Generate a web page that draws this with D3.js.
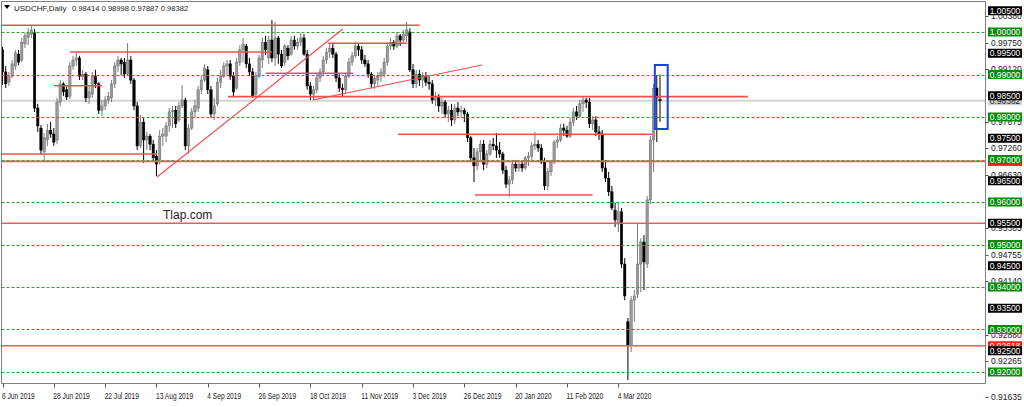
<!DOCTYPE html>
<html><head><meta charset="utf-8">
<script src="https://cdnjs.cloudflare.com/ajax/libs/d3/7.8.5/d3.min.js"></script>
<style>
html,body{margin:0;padding:0;background:#fff;}
svg{display:block;font-family:"Liberation Sans",Arial,sans-serif;}
</style></head><body>
<svg id="c" width="1024" height="407"></svg>
<script>
// ---------------- DATA ----------------
const symbolTitle = "USDCHF,Daily";
const lastQuote = [0.98414, 0.98998, 0.97887, 0.98382]; // O H L C of the last bar
const opens = [0.9958,0.9906,0.9882,0.9896,0.9920,0.9948,0.9934,0.9972,0.9988,0.9995,
0.9998,0.9821,0.9774,0.9718,0.9746,0.9769,0.9760,0.9746,0.9835,0.9878,
0.9864,0.9849,0.9920,0.9934,0.9939,0.9896,0.9901,0.9845,0.9854,0.9896,
0.9878,0.9816,0.9826,0.9840,0.9845,0.9878,0.9920,0.9934,0.9929,0.9901,
0.9934,0.9887,0.9826,0.9732,0.9788,0.9746,0.9755,0.9736,0.9708,0.9699,
0.9755,0.9755,0.9779,0.9812,0.9816,0.9793,0.9826,0.9840,0.9732,0.9774,
0.9812,0.9821,0.9864,0.9887,0.9911,0.9864,0.9807,0.9831,0.9882,0.9896,
0.9920,0.9925,0.9896,0.9868,0.9929,0.9958,0.9967,0.9925,0.9906,0.9854,
0.9896,0.9934,0.9976,0.9939,0.9981,0.9939,0.9986,0.9948,0.9929,0.9962,
0.9948,0.9981,0.9967,0.9976,0.9986,0.9948,0.9873,0.9854,0.9864,0.9892,
0.9906,0.9934,0.9953,0.9962,0.9948,0.9892,0.9868,0.9864,0.9896,0.9929,
0.9944,0.9967,0.9958,0.9934,0.9925,0.9901,0.9878,0.9887,0.9896,0.9901,
0.9929,0.9967,0.9976,0.9967,0.9991,0.9981,0.9991,1.0000,0.9911,0.9878,
0.9901,0.9887,0.9896,0.9882,0.9878,0.9840,0.9849,0.9826,0.9835,0.9807,
0.9816,0.9793,0.9821,0.9812,0.9816,0.9807,0.9751,0.9704,0.9685,0.9718,
0.9736,0.9689,0.9713,0.9736,0.9732,0.9722,0.9713,0.9675,0.9642,0.9652,
0.9689,0.9680,0.9689,0.9680,0.9704,0.9708,0.9732,0.9736,0.9727,0.9694,
0.9638,0.9671,0.9694,0.9741,0.9746,0.9774,0.9769,0.9755,0.9788,0.9812,
0.9802,0.9831,0.9840,0.9835,0.9784,0.9793,0.9765,0.9760,0.9680,0.9656,
0.9624,0.9581,0.9548,0.9577,0.9454,0.9318,0.9262,0.9369,0.9383,0.9454,
0.9506,0.9454,0.9605,0.9746,0.9868,0.98414];
const highs = [0.9965,0.9920,0.9906,0.9934,0.9958,0.9958,0.9986,0.9998,1.0009,1.0014,
1.0007,0.9831,0.9781,0.9762,0.9784,0.9788,0.9774,0.9845,0.9887,0.9882,
0.9873,0.9929,0.9944,0.9951,0.9944,0.9911,0.9906,0.9875,0.9906,0.9911,
0.9882,0.9840,0.9849,0.9859,0.9887,0.9929,0.9944,0.9939,0.9939,0.9974,
0.9944,0.9892,0.9835,0.9805,0.9798,0.9765,0.9760,0.9746,0.9722,0.9769,
0.9774,0.9788,0.9821,0.9826,0.9826,0.9835,0.9875,0.9845,0.9784,0.9821,
0.9840,0.9873,0.9896,0.9925,0.9920,0.9873,0.9845,0.9892,0.9911,0.9929,
0.9934,0.9934,0.9906,0.9939,0.9969,0.9986,0.9972,0.9939,0.9915,0.9906,
0.9946,0.9986,0.9991,0.9991,1.0028,1.0024,0.9991,0.9958,0.9972,0.9969,
0.9991,0.9991,0.9986,0.9998,0.9995,0.9958,0.9882,0.9873,0.9901,0.9915,
0.9944,0.9962,0.9974,0.9972,0.9953,0.9901,0.9878,0.9901,0.9939,0.9953,
0.9976,0.9974,0.9967,0.9946,0.9934,0.9906,0.9899,0.9906,0.9915,0.9939,
0.9976,0.9986,0.9981,1.0000,0.9995,1.0005,1.0024,1.0009,0.9925,0.9911,
0.9911,0.9906,0.9906,0.9896,0.9887,0.9859,0.9854,0.9845,0.9840,0.9826,
0.9831,0.9831,0.9835,0.9826,0.9821,0.9812,0.9755,0.9727,0.9727,0.9746,
0.9746,0.9722,0.9746,0.9751,0.9762,0.9741,0.9718,0.9685,0.9661,0.9699,
0.9699,0.9694,0.9699,0.9708,0.9718,0.9741,0.9765,0.9746,0.9736,0.9704,
0.9680,0.9699,0.9746,0.9755,0.9784,0.9784,0.9779,0.9798,0.9821,0.9826,
0.9840,0.9849,0.9845,0.9845,0.9802,0.9802,0.9779,0.9769,0.9699,0.9671,
0.9638,0.9598,0.9600,0.9586,0.9468,0.9327,0.9379,0.9393,0.9551,0.9515,
0.9522,0.9614,0.9755,0.9878,0.9899,0.98998];
const lows = [0.9875,0.9868,0.9873,0.9892,0.9911,0.9922,0.9929,0.9962,0.9969,0.9986,
0.9812,0.9765,0.9711,0.9694,0.9732,0.9751,0.9732,0.9736,0.9826,0.9849,
0.9840,0.9842,0.9911,0.9920,0.9887,0.9887,0.9835,0.9831,0.9845,0.9868,
0.9807,0.9802,0.9816,0.9831,0.9835,0.9868,0.9906,0.9899,0.9892,0.9896,
0.9878,0.9816,0.9722,0.9727,0.9692,0.9722,0.9722,0.9699,0.9661,0.9689,
0.9732,0.9741,0.9765,0.9774,0.9774,0.9788,0.9821,0.9722,0.9713,0.9769,
0.9798,0.9812,0.9854,0.9882,0.9854,0.9798,0.9793,0.9826,0.9868,0.9892,
0.9899,0.9887,0.9849,0.9864,0.9920,0.9929,0.9915,0.9896,0.9845,0.9847,
0.9892,0.9915,0.9946,0.9925,0.9929,0.9920,0.9925,0.9915,0.9920,0.9934,
0.9944,0.9958,0.9958,0.9967,0.9944,0.9864,0.9840,0.9840,0.9856,0.9882,
0.9896,0.9925,0.9939,0.9939,0.9882,0.9859,0.9849,0.9856,0.9892,0.9920,
0.9939,0.9944,0.9925,0.9918,0.9892,0.9868,0.9866,0.9873,0.9882,0.9892,
0.9920,0.9958,0.9958,0.9962,0.9967,0.9972,0.9976,0.9906,0.9868,0.9868,
0.9873,0.9868,0.9873,0.9864,0.9831,0.9826,0.9812,0.9807,0.9798,0.9788,
0.9779,0.9784,0.9802,0.9798,0.9788,0.9741,0.9694,0.9647,0.9675,0.9694,
0.9675,0.9680,0.9708,0.9722,0.9704,0.9704,0.9666,0.9633,0.9612,0.9642,
0.9671,0.9671,0.9671,0.9675,0.9685,0.9694,0.9722,0.9718,0.9689,0.9628,
0.9628,0.9661,0.9689,0.9727,0.9741,0.9755,0.9751,0.9751,0.9779,0.9793,
0.9798,0.9812,0.9821,0.9774,0.9769,0.9755,0.9746,0.9671,0.9647,0.9614,
0.9581,0.9541,0.9529,0.9445,0.9369,0.9181,0.9247,0.9318,0.9374,0.9388,
0.9393,0.9445,0.9595,0.9671,0.9741,0.97887];
const closes = [0.9906,0.9878,0.9896,0.9925,0.9951,0.9929,0.9976,0.9991,0.9998,1.0005,
0.9821,0.9779,0.9722,0.9751,0.9769,0.9760,0.9741,0.9835,0.9878,0.9859,
0.9847,0.9920,0.9934,0.9939,0.9896,0.9901,0.9845,0.9859,0.9896,0.9878,
0.9816,0.9826,0.9840,0.9849,0.9878,0.9920,0.9934,0.9925,0.9901,0.9934,
0.9887,0.9826,0.9732,0.9788,0.9746,0.9755,0.9736,0.9704,0.9689,0.9755,
0.9760,0.9779,0.9812,0.9816,0.9784,0.9826,0.9840,0.9732,0.9774,0.9812,
0.9826,0.9864,0.9887,0.9915,0.9864,0.9807,0.9826,0.9882,0.9896,0.9920,
0.9925,0.9896,0.9859,0.9929,0.9958,0.9972,0.9925,0.9906,0.9849,0.9896,
0.9939,0.9976,0.9958,0.9981,0.9939,0.9986,0.9948,0.9920,0.9967,0.9944,
0.9981,0.9967,0.9976,0.9986,0.9948,0.9873,0.9854,0.9864,0.9892,0.9906,
0.9934,0.9953,0.9962,0.9948,0.9892,0.9868,0.9864,0.9896,0.9929,0.9944,
0.9967,0.9958,0.9934,0.9925,0.9901,0.9878,0.9892,0.9896,0.9906,0.9929,
0.9967,0.9976,0.9967,0.9991,0.9981,0.9995,1.0005,0.9911,0.9878,0.9901,
0.9887,0.9896,0.9882,0.9878,0.9840,0.9849,0.9826,0.9835,0.9807,0.9816,
0.9793,0.9821,0.9812,0.9816,0.9807,0.9751,0.9704,0.9685,0.9718,0.9736,
0.9689,0.9713,0.9736,0.9732,0.9722,0.9713,0.9675,0.9642,0.9652,0.9689,
0.9680,0.9689,0.9680,0.9704,0.9708,0.9732,0.9736,0.9727,0.9694,0.9638,
0.9671,0.9694,0.9741,0.9746,0.9774,0.9769,0.9755,0.9788,0.9812,0.9802,
0.9831,0.9840,0.9835,0.9784,0.9793,0.9765,0.9760,0.9680,0.9656,0.9624,
0.9586,0.9558,0.9577,0.9454,0.9379,0.9262,0.9369,0.9379,0.9454,0.9506,
0.9459,0.9605,0.9746,0.9868,0.9845,0.98382];

const dateTickLabels = ["6 Jun 2019","28 Jun 2019","22 Jul 2019","13 Aug 2019","4 Sep 2019","26 Sep 2019","18 Oct 2019","11 Nov 2019","3 Dec 2019","26 Dec 2019","20 Jan 2020","11 Feb 2020","4 Mar 2020"];
const dateTickBars = [0,16,32,48,64,80,96,112,128,144,160,176,192];

// visible auto-scale price ticks (others are hidden under level tags)
const priceTickValues = [1.00380,0.99750,0.99120,0.97875,0.97260,0.96630,0.95385,0.94755,0.94140,0.92880,0.92265,0.91635];
const greenLevels = [1.00,0.99,0.98,0.97,0.96,0.95,0.94,0.93,0.92];
const blackLevels = [1.005,0.995,0.985,0.975,0.965,0.955,0.945,0.935,0.925];
const redFullLevels = [0.96955,0.955,0.92618];
const redTagLevels = [0.92618];
// [price, fromBar, toBar]
const redSegments = [[1.0016,-0.2,130.1],[0.9953,21.0,84.0],[0.98737,16.0,31.0],[0.9848,70.3,232.4],
  [0.99028,82.1,109.3],[0.99734,101.5,126.1],[0.97129,-0.8,48.2],[0.97593,123.3,202.5],[0.96165,147.3,184.0]];
// [bar0, price0, bar1, price1]
const redTrendlines = [[48.2,0.96588,106.1,1.00071],[96.8,0.98400,149.5,0.99224]];
const blueBox = [203.4,0.99224,207.4,0.97718];
const watermark = "Tlap.com";

// ---------------- CHART ----------------
const W = 1024, H = 407;
const plotRight = 985.5, plotBottom = 383.5, plotTop = 1.5, plotLeft = 1.5;
const svg = d3.select("#c");
const x = d3.scaleLinear().domain([0,192]).range([2.5,618.3]);
const y = d3.scaleLinear().domain([0.92,1.0]).range([372,32]);
const yl = p => Math.round(y(p)) + 0.5; // crisp 1px horizontal lines

svg.append("rect").attr("width",W).attr("height",H).attr("fill","#fff");

svg.append("defs").append("clipPath").attr("id","plot")
  .append("rect").attr("x",plotLeft).attr("y",plotTop).attr("width",plotRight-plotLeft).attr("height",plotBottom-plotTop);
const g = svg.append("g").attr("clip-path","url(#plot)");

// bid line
g.append("line").attr("x1",plotLeft).attr("x2",plotRight)
  .attr("y1",y(lastQuote[3])).attr("y2",y(lastQuote[3]))
  .attr("stroke","#d4d4d4").attr("stroke-width",2);

// candles
const bars = d3.range(opens.length).map(i=>({i,o:opens[i],h:highs[i],l:lows[i],c:closes[i]}));
const cg = g.append("g");
cg.selectAll("line.w").data(bars).join("line").attr("class","w")
  .attr("x1",d=>x(d.i)).attr("x2",d=>x(d.i))
  .attr("y1",d=>y(d.h)).attr("y2",d=>y(d.l))
  .attr("stroke",d=>d.c>=d.o?"#7a7a7a":"#000").attr("stroke-width",1);
cg.selectAll("rect.b").data(bars).join("rect").attr("class","b")
  .attr("x",d=>x(d.i)-1.2).attr("width",2.4)
  .attr("y",d=>y(Math.max(d.o,d.c)))
  .attr("height",d=>Math.max(1,Math.abs(y(d.o)-y(d.c))))
  .attr("fill",d=>d.c>=d.o?"#9a9a9a":"#000")
  .attr("stroke",d=>d.c>=d.o?"#6e6e6e":"#000").attr("stroke-width",0.5);

// green dashed levels
g.selectAll("line.gl").data(greenLevels).join("line").attr("class","gl")
  .attr("x1",plotLeft).attr("x2",plotRight).attr("y1",d=>yl(d)).attr("y2",d=>yl(d))
  .attr("stroke","#2ea02e").attr("stroke-width",1).attr("stroke-dasharray","3,2");

// red full-width
g.selectAll("line.rf").data(redFullLevels).join("line").attr("class","rf")
  .attr("x1",plotLeft).attr("x2",plotRight).attr("y1",d=>y(d)).attr("y2",d=>y(d))
  .attr("stroke","#f25a5a").attr("stroke-width",1.7);
// red segments
g.selectAll("line.rs").data(redSegments).join("line").attr("class","rs")
  .attr("x1",d=>x(d[1])).attr("x2",d=>x(d[2])).attr("y1",d=>y(d[0])).attr("y2",d=>y(d[0]))
  .attr("stroke","#f25050").attr("stroke-width",1.6);
g.selectAll("line.rt").data(redTrendlines).join("line").attr("class","rt")
  .attr("x1",d=>x(d[0])).attr("y1",d=>y(d[1])).attr("x2",d=>x(d[2])).attr("y2",d=>y(d[3]))
  .attr("stroke","#f25050").attr("stroke-width",1.2);

// blue rectangle
g.append("rect").attr("x",x(blueBox[0])).attr("y",y(blueBox[1]))
  .attr("width",x(blueBox[2])-x(blueBox[0])).attr("height",y(blueBox[3])-y(blueBox[1]))
  .attr("fill","none").attr("stroke","#1c3fe0").attr("stroke-width",2);

// watermark
svg.append("text").attr("x",163).attr("y",219).attr("font-size",12).attr("fill","#222").text(watermark);

// title
svg.append("path").attr("d","M4,5 L10,5 L7,9 Z").attr("fill","#000");
svg.append("text").attr("x",14).attr("y",10.5).attr("font-size",8).attr("fill","#222").text(symbolTitle);
svg.append("text").attr("x",72).attr("y",10.5).attr("font-size",7.6).attr("fill","#222")
  .text(lastQuote.map(v=>v.toFixed(5)).join(" "));

// frame
svg.append("path").attr("d",`M${plotLeft},${plotBottom} L${plotLeft},${plotTop} L${plotRight},${plotTop} L${plotRight},${plotBottom} L${plotLeft},${plotBottom}`)
  .attr("fill","none").attr("stroke","#808080").attr("stroke-width",1);

// time axis
const xt = svg.append("g");
xt.selectAll("line").data(dateTickBars).join("line")
  .attr("x1",d=>Math.round(x(d))+0.5).attr("x2",d=>Math.round(x(d))+0.5).attr("y1",plotBottom).attr("y2",plotBottom+4)
  .attr("stroke","#555");
const dl = xt.selectAll("text").data(dateTickLabels).join("text")
  .attr("x",(d,i)=>x(dateTickBars[i])-0.5).attr("y",399).attr("font-size",8.5).attr("fill","#222").text(d=>d);
dl.each(function(){ const w=this.getComputedTextLength(); d3.select(this).attr("textLength",w*0.78).attr("lengthAdjust","spacingAndGlyphs"); });

// price axis
const fmt = d3.format(".5f");
const py = p => { const v = y(p); return v > plotBottom ? plotBottom + 13 : v; };
const pa = svg.append("g");
pa.selectAll("line").data(priceTickValues).join("line")
  .attr("x1",plotRight).attr("x2",plotRight+3).attr("y1",d=>Math.round(py(d))+0.5).attr("y2",d=>Math.round(py(d))+0.5).attr("stroke","#555");
pa.selectAll("text").data(priceTickValues).join("text")
  .attr("x",991).attr("y",d=>py(d)+3).attr("font-size",8.5).attr("fill","#222").text(d=>fmt(d));

function tag(p, bg, fg, withText){
  const gg = svg.append("g");
  gg.append("rect").attr("x",988).attr("y",y(p)-4.5).attr("width",34).attr("height",9).attr("fill",bg);
  if (withText) gg.append("text").attr("x",1005).attr("y",y(p)+3).attr("text-anchor","middle").attr("font-size",8.5).attr("fill",fg).text(fmt(p));
}
tag(lastQuote[3],"#d4d4d4","#222",true);
tag(0.96955,"#ff2020","#fff",false);
redTagLevels.forEach(p=>tag(p,"#ff2020","#fff",true));
blackLevels.forEach(p=>tag(p,"#000","#fff",true));
greenLevels.forEach(p=>tag(p,"#0a8a0a","#fff",true));
</script>
</body></html>
